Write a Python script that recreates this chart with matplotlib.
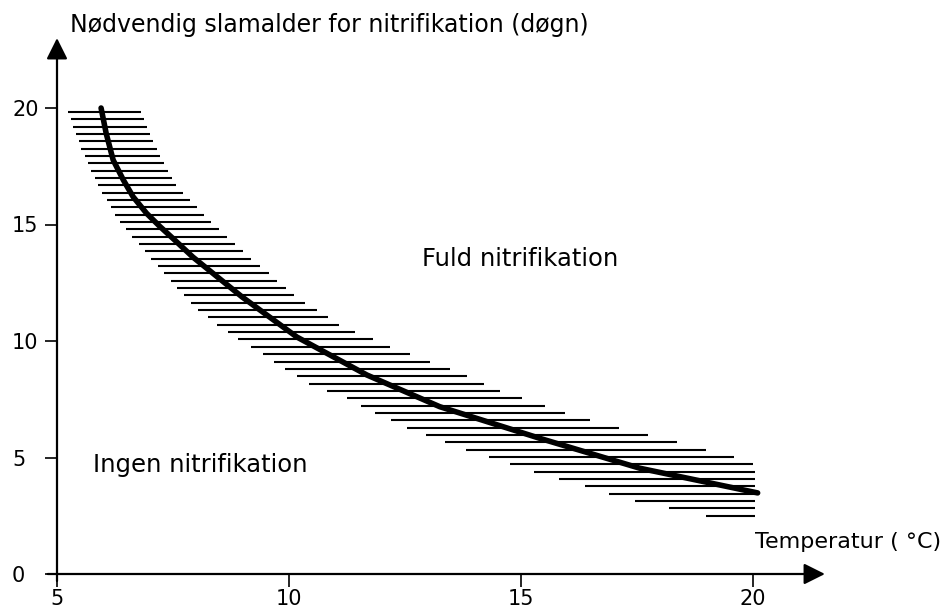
import numpy as np
import matplotlib
matplotlib.use("Agg")
import matplotlib.pyplot as plt

# ---- data ----
curve_temp = [5.95, 6.06, 6.21, 6.43, 6.64, 6.93, 7.22, 7.50, 7.93, 8.99, 10.17, 11.68, 13.25, 15.41, 17.56, 20.10]
curve_age = [20.0, 18.91, 17.77, 16.91, 16.19, 15.48, 14.91, 14.40, 13.6, 11.89, 10.17, 8.54, 7.18, 5.82, 4.54, 3.48]

band_left_age = [2.49, 2.79, 3.09, 3.39, 3.70, 4.03, 4.35, 4.64, 4.97, 5.61, 6.22, 6.85, 7.50,
                 8.11, 8.76, 9.40, 9.97, 10.61, 11.26, 11.93, 13.51, 15.08, 16.65, 18.23, 19.83]
band_left_temp = [19.03, 18.25, 17.54, 17.00, 16.49, 15.90, 15.35, 14.87, 14.39, 13.41, 12.62, 11.92, 11.30,
                  10.49, 9.94, 9.48, 8.98, 8.51, 8.08, 7.74, 7.04, 6.36, 5.89, 5.53, 5.24]
band_right_age = [2.49, 4.68, 4.98, 5.30, 5.60, 5.90, 6.20, 6.52, 6.85, 7.17, 7.80, 8.76, 9.69,
                  10.64, 11.62, 11.93, 13.51, 15.08, 16.65, 18.23, 19.83]
band_right_temp = [20.04, 20.04, 19.68, 19.07, 18.47, 17.87, 17.28, 16.64, 16.04, 15.60, 14.62, 13.53, 12.26,
                   11.11, 10.37, 10.13, 9.20, 8.33, 7.58, 7.15, 6.81]

x_ticks = [5, 10, 15, 20]
y_ticks = [0, 5, 10, 15, 20]

y_title = "Nødvendig slamalder for nitrifikation (døgn)"
x_title = "Temperatur ( °C)"
label_full = "Fuld nitrifikation"
label_none = "Ingen nitrifikation"

# ---- figure ----
W, H, DPI = 951, 608, 100
fig = plt.figure(figsize=(W / DPI, H / DPI), dpi=DPI)
fig.patch.set_facecolor("white")
ax = fig.add_axes([0, 0, 1, 1])

px_per_x = 46.4
px_per_y = 23.3
x0_px, y0_px = 57, 574  # pixel position of (5, 0)
ax.set_xlim(5 - x0_px / px_per_x, 5 + (W - x0_px) / px_per_x)
ax.set_ylim(-(H - y0_px) / px_per_y, y0_px / px_per_y)

for s in ax.spines.values():
    s.set_visible(False)
ax.spines["left"].set_position(("data", 5))
ax.spines["bottom"].set_position(("data", 0))

# hatched band
spacing = 0.315
levels = np.arange(max(band_left_age), min(band_left_age) - 1e-6, -spacing)
lefts = np.interp(levels, band_left_age, band_left_temp)
rights = np.interp(levels, band_right_age, band_right_temp)
ax.hlines(levels, lefts, rights, colors="black", linewidth=1.5)

# main curve
ax.plot(curve_temp, curve_age, color="black", linewidth=4.0,
        solid_capstyle="round", solid_joinstyle="round")

# axes with arrows
ax.annotate("", xy=(5, 23.0), xytext=(5, -0.3),
            arrowprops=dict(arrowstyle="-|>,head_length=0.8,head_width=0.4",
                            mutation_scale=16, lw=1.6, color="black",
                            shrinkA=0, shrinkB=0))
ax.annotate("", xy=(21.55, 0), xytext=(4.8, 0),
            arrowprops=dict(arrowstyle="-|>,head_length=0.8,head_width=0.4",
                            mutation_scale=16, lw=1.6, color="black",
                            shrinkA=0, shrinkB=0))

# ticks
ax.set_xticks(x_ticks)
ax.set_xticklabels([str(t) for t in x_ticks])
ax.set_yticks(y_ticks)
ax.set_yticklabels([str(t) for t in y_ticks])
ax.tick_params(axis="y", direction="out", length=8.6, width=1.2, pad=23.8, labelsize=15)
ax.tick_params(axis="x", direction="out", length=9, width=1.2, pad=1.5, labelsize=15)
for lbl in ax.get_yticklabels():
    lbl.set_ha("left")

# texts
ax.text(5 + (70 - x0_px) / px_per_x, (y0_px - 32) / px_per_y, y_title,
        fontsize=17, ha="left", va="baseline")
ax.text(5 + (755 - x0_px) / px_per_x, (y0_px - 548) / px_per_y, x_title,
        fontsize=16, ha="left", va="baseline")
ax.text(5 + (422 - x0_px) / px_per_x, (y0_px - 266) / px_per_y, label_full,
        fontsize=17.5, ha="left", va="baseline")
ax.text(5 + (93 - x0_px) / px_per_x, (y0_px - 472) / px_per_y, label_none,
        fontsize=17.5, ha="left", va="baseline")

fig.savefig("out.png", dpi=DPI, facecolor="white")
